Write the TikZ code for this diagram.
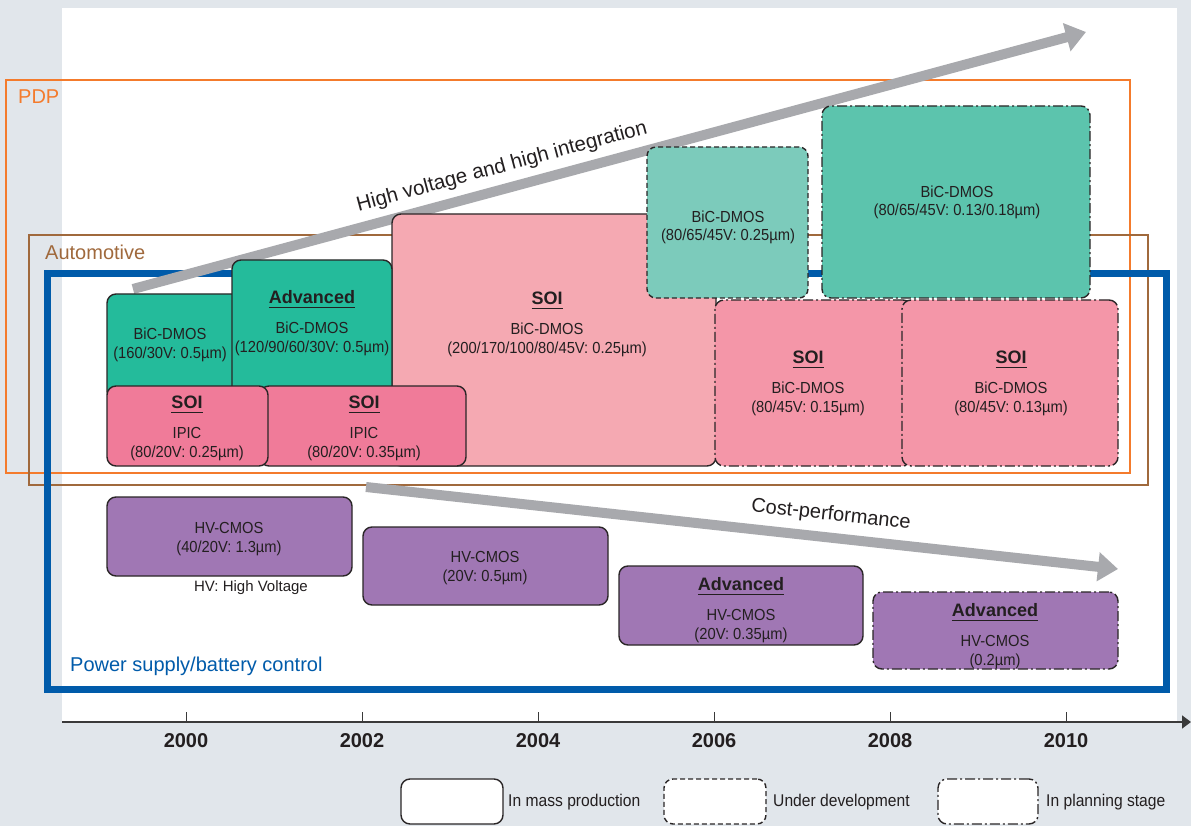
\documentclass[tikz,border=0pt]{standalone}
\usepackage{fontspec}
\setmainfont{Liberation Sans}
\newfontfamily\boxfont[FakeStretch=0.92]{Liberation Sans}
\usetikzlibrary{arrows.meta}

\definecolor{pagebg}{HTML}{E1E6EB}
\definecolor{ink}{HTML}{231F20}
\definecolor{edge}{HTML}{2A2627}
\definecolor{pdpc}{HTML}{F47B2C}
\definecolor{autoc}{HTML}{A0693C}
\definecolor{powc}{HTML}{005BAA}
\definecolor{trend}{HTML}{A8A9AD}
\definecolor{green1}{HTML}{24BB9B}
\definecolor{teal1}{HTML}{7CCBBB}
\definecolor{teal2}{HTML}{5CC4AD}
\definecolor{pink1}{HTML}{F5A9B2}
\definecolor{pink2}{HTML}{F07B99}
\definecolor{pink3}{HTML}{F496A8}
\definecolor{purp}{HTML}{A077B4}
\definecolor{axisc}{HTML}{3A3A3A}

% bold underlined heading inside a box
\newcommand\uhead[1]{{\normalfont\fontsize{18}{20}\selectfont\bfseries
  \setbox0=\hbox{#1}\rlap{\rule[-5.2pt]{\wd0}{1.6pt}}\box0}}

\tikzset{
  pbox/.style={draw=edge, line width=1.4pt, rounded corners=9pt,
    anchor=north west, inner sep=0pt, outer sep=0pt},
  mass/.style={pbox},
  devel/.style={pbox, dash pattern=on 5pt off 3pt},
  plan/.style={pbox, dash pattern=on 10pt off 3pt on 2pt off 3pt},
  % multi-line box text, placed by the baseline of its last line
  btext/.style={align=center, anchor=base, inner sep=0pt, text=ink,
    font=\boxfont\fontsize{16}{18.5}\selectfont},
  frame/.style={line width=1.5pt},
  flabel/.style={anchor=west, inner sep=0pt, font=\fontsize{20}{22}\selectfont},
  trendarrow/.style={draw=trend, line width=10pt,
    -{Triangle[length=20pt,width=28pt]}},
  year/.style={anchor=base, inner sep=0pt, text=ink,
    font=\fontsize{20}{22}\selectfont\bfseries},
  legtext/.style={anchor=west, inner sep=0pt, text=ink,
    font=\boxfont\fontsize{17}{19}\selectfont},
}

\begin{document}
\begin{tikzpicture}[x=1pt,y=-1pt]
% page and white panel
\fill[pagebg] (0,0) rectangle (1191,826);
\fill[white] (62,8) rectangle (1177,722);
\useasboundingbox (0,0) rectangle (1191,826);

% application frames
\draw[frame, pdpc] (6,80) rectangle (1130,473);
\draw[frame, autoc] (29,235) rectangle (1148,485);
\draw[line width=7pt, powc] (47,274) rectangle (1166,689);
\node[flabel, text=pdpc] (lpdp) at (18,97) {PDP};
\node[flabel, text=autoc] (lauto) at (45,252) {Automotive};
\node[flabel, text=powc] (lpow) at (70,666) {Power supply/battery control};

% trend arrows
\coordinate (hv0) at (133,289);
\coordinate (hv1) at (1086,32);
\coordinate (cp0) at (366,487);
\coordinate (cp1) at (1118,569);
\draw[trendarrow] (hv0) -- (hv1);
\draw[trendarrow] (cp0) -- (cp1);
\node[rotate=15.1, text=ink, font=\fontsize{20.5}{22}\selectfont] (thv) at (502,167)
  {High voltage and high integration};
\node[rotate=-6.2, text=ink, font=\fontsize{20}{22}\selectfont] (tcp) at (831,515)
  {Cost-performance};

% process boxes
\node[mass, fill=green1, minimum width=140pt, minimum height=106pt] (b1) at (107,294) {};
\node[mass, fill=pink1, minimum width=324pt, minimum height=252pt] (b3) at (392,214) {};
\node[mass, fill=green1, minimum width=160pt, minimum height=135pt] (b2) at (232,260) {};
\node[mass, fill=pink2, minimum width=206pt, minimum height=80pt] (b5) at (260,386) {};
\node[mass, fill=pink2, minimum width=161pt, minimum height=80pt] (b4) at (107,386) {};
\node[devel, fill=teal1, minimum width=161pt, minimum height=151pt] (b6) at (647,147) {};
\node[plan, fill=teal2, minimum width=268pt, minimum height=192pt] (b7) at (822,106) {};
\node[plan, fill=pink3, minimum width=197pt, minimum height=166pt] (b8) at (715,300) {};
\node[plan, fill=pink3, minimum width=216pt, minimum height=166pt] (b9) at (902,300) {};
\node[mass, fill=purp, minimum width=245pt, minimum height=79pt] (b10) at (107,497) {};
\node[mass, fill=purp, minimum width=245pt, minimum height=78pt] (b11) at (363,527) {};
\node[mass, fill=purp, minimum width=244pt, minimum height=79pt] (b12) at (619,566) {};
\node[plan, fill=purp, minimum width=245pt, minimum height=77pt] (b13) at (873,592) {};

% box texts
\node[btext] (t1) at (170,358) {BiC-DMOS\\(160/30V: 0.5µm)};
\node[btext] (t2) at (312,352) {\uhead{Advanced}\\[12pt]BiC-DMOS\\(120/90/60/30V: 0.5µm)};
\node[btext] (t3) at (547,353) {\uhead{SOI}\\[12pt]BiC-DMOS\\(200/170/100/80/45V: 0.25µm)};
\node[btext] (t4) at (187,457) {\uhead{SOI}\\[12pt]IPIC\\(80/20V: 0.25µm)};
\node[btext] (t5) at (364,457) {\uhead{SOI}\\[12pt]IPIC\\(80/20V: 0.35µm)};
\node[btext] (t6) at (728,241) {BiC-DMOS\\(80/65/45V: 0.25µm)};
\node[btext] (t7) at (957,216) {BiC-DMOS\\(80/65/45V: 0.13/0.18µm)};
\node[btext] (t8) at (808,412) {\uhead{SOI}\\[12pt]BiC-DMOS\\(80/45V: 0.15µm)};
\node[btext] (t9) at (1011,412) {\uhead{SOI}\\[12pt]BiC-DMOS\\(80/45V: 0.13µm)};
\node[btext] (t10) at (229,552) {HV-CMOS\\(40/20V: 1.3µm)};
\node[btext] (t11) at (485,581) {HV-CMOS\\(20V: 0.5µm)};
\node[btext] (t12) at (741,639) {\uhead{Advanced}\\[12pt]HV-CMOS\\(20V: 0.35µm)};
\node[btext] (t13) at (995,665) {\uhead{Advanced}\\[12pt]HV-CMOS\\(0.2µm)};
\node[text=ink, inner sep=0pt, font=\fontsize{15}{17}\selectfont] (hvnote) at (251,588) {HV: High Voltage};

% time axis
\coordinate (ax0) at (62,722);
\coordinate (ax1) at (1191,722);
\draw[axisc, line width=1.6pt, -{Triangle[length=9pt,width=13pt]}] (ax0) -- (ax1);
\foreach \yr [count=\i from 0] in {2000,2002,2004,2006,2008,2010}{
  \draw[axisc, line width=1pt] (186+176*\i,712) -- (186+176*\i,722);
  \node[year] (y\yr) at (186+176*\i,747) {\yr};
}

% legend
\node[mass, fill=white, minimum width=102pt, minimum height=45pt] (lg1) at (401,779) {};
\node[devel, fill=white, minimum width=102pt, minimum height=45pt] (lg2) at (664,779) {};
\node[plan, fill=white, minimum width=100pt, minimum height=45pt] (lg3) at (938,779) {};
\node[legtext] (lt1) at (508,802) {In mass production};
\node[legtext] (lt2) at (773,802) {Under development};
\node[legtext] (lt3) at (1046,802) {In planning stage};
\end{tikzpicture}
\end{document}
